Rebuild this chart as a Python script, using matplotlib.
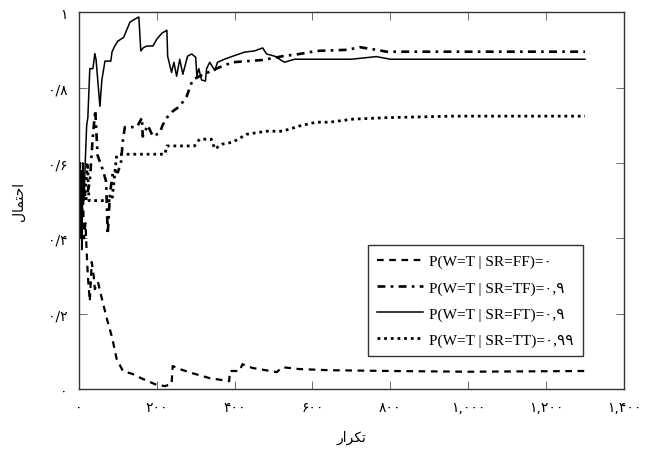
import numpy as np
import matplotlib
matplotlib.use('Agg')
import matplotlib.pyplot as plt

# series: (iteration, probability)
ff_x = [0, 3, 6, 10, 13, 17, 20, 23, 28, 33, 38, 41, 49, 59, 72, 85, 97, 113, 138, 164, 200, 221, 238,
        241, 259, 292, 336, 386, 388, 413, 420, 446, 508, 523, 567, 644, 800, 1000, 1300]
ff_y = [0.5, 0.6, 0.42, 0.55, 0.4, 0.44, 0.363, 0.30, 0.233, 0.337, 0.30, 0.265, 0.284, 0.24, 0.186, 0.138,
        0.08, 0.048, 0.04, 0.027, 0.011, 0.008, 0.013, 0.061, 0.053, 0.042, 0.029, 0.021, 0.048, 0.048, 0.066,
        0.056, 0.045, 0.058, 0.053, 0.05, 0.048, 0.046, 0.048]

tf_x = [0, 5, 10, 18, 28, 35, 42, 48, 55, 62, 70, 74, 80, 88, 100, 108, 113, 118, 149, 162, 164, 177, 190,
        208, 215, 226, 241, 259, 277, 285, 292, 310, 362, 395, 472, 523, 567, 610, 690, 721, 764, 790, 1300]
tf_y = [0.5, 0.45, 0.55, 0.5, 0.55, 0.66, 0.74, 0.62, 0.6, 0.58, 0.55, 0.41, 0.52, 0.58, 0.575, 0.6, 0.66,
        0.695, 0.695, 0.72, 0.67, 0.70, 0.67, 0.68, 0.70, 0.72, 0.737, 0.75, 0.777, 0.80, 0.82, 0.83, 0.854,
        0.867, 0.873, 0.883, 0.889, 0.897, 0.90, 0.907, 0.90, 0.895, 0.895]

ft_x = [0, 2, 4, 6, 8, 10, 13, 17, 20, 23, 28, 36, 41, 44, 54, 59, 67, 82, 85, 92, 100, 115, 131, 141, 154,
        159, 165, 174, 190, 200, 213, 226, 228, 238, 244, 251, 259, 267, 279, 290, 300, 303, 308, 315, 325,
        328, 336, 349, 356, 374, 395, 426, 451, 472, 482, 503, 528, 554, 590, 700, 764, 800, 1300]
ft_y = [0.5, 0.6, 0.4, 0.58, 0.37, 0.6, 0.5, 0.62, 0.7, 0.72, 0.85, 0.85, 0.89, 0.875, 0.75, 0.82, 0.87,
        0.87, 0.894, 0.91, 0.923, 0.933, 0.973, 0.98, 0.987, 0.897, 0.905, 0.91, 0.91, 0.928, 0.944, 0.952,
        0.883, 0.84, 0.867, 0.83, 0.875, 0.835, 0.883, 0.889, 0.88, 0.83, 0.85, 0.82, 0.817, 0.85, 0.867,
        0.845, 0.867, 0.875, 0.883, 0.894, 0.897, 0.905, 0.889, 0.883, 0.867, 0.875, 0.875, 0.875, 0.882,
        0.875, 0.875]

tt_x = [0, 3, 6, 10, 15, 22, 26, 40, 60, 85, 90, 97, 113, 221, 226, 297, 310, 340, 349, 369, 395, 431, 482,
        523, 567, 610, 644, 703, 790, 959, 1300]
tt_y = [0.5, 0.56, 0.44, 0.52, 0.5, 0.6, 0.5, 0.5, 0.5, 0.5, 0.55, 0.62, 0.623, 0.623, 0.645, 0.645, 0.663,
        0.663, 0.637, 0.65, 0.655, 0.676, 0.684, 0.684, 0.698, 0.708, 0.708, 0.716, 0.72, 0.724, 0.724]

labels = ['P(W=T | SR=FF)=۰', 'P(W=T | SR=TF)=۰,۹', 'P(W=T | SR=FT)=۰,۹', 'P(W=T | SR=TT)=۰,۹۹']
x_ticks = [0, 200, 400, 600, 800, 1000, 1200, 1400]
y_ticks = [0, 0.2, 0.4, 0.6, 0.8, 1.0]

# matplotlib does no arabic shaping, so the labels are written in
# presentation forms, in visual (left to right) order
ylab = '\ufedd\ufe8e\ufee4\ufe98\ufea3\ufe8d'   # احتمال
xlab = '\ufead\ufe8d\ufeae\ufb91\ufe97'         # تکرار

FA = str.maketrans('0123456789', '۰۱۲۳۴۵۶۷۸۹')

def fa_x(v):
    return '{:,}'.format(int(v)).translate(FA)

def fa_y(v):
    if v == 0:
        return '۰'
    if v == 1:
        return '۱'
    return '{:.1f}'.format(v).replace('.', '/').translate(FA)

fig = plt.figure(figsize=(6.52, 4.52), dpi=100)
ax = fig.add_axes([0.121, 0.137, 0.836, 0.834])

ax.plot(ff_x, ff_y, color='black', lw=1.6, dashes=(3, 2.5), label=labels[0])
ax.plot(tf_x, tf_y, color='black', lw=1.9, dashes=(3, 2, 1, 2), label=labels[1])
ax.plot(ft_x, ft_y, color='black', lw=1.1, label=labels[2])
ax.plot(tt_x, tt_y, color='black', lw=2.0, dashes=(1, 1.4), label=labels[3])

ax.set_xlim(0, 1400)
ax.set_ylim(0, 1)
ax.set_xticks(x_ticks)
ax.set_xticklabels([fa_x(v) for v in x_ticks], fontsize=10, family=['DejaVu Sans'])
ax.set_yticks(y_ticks)
ax.set_yticklabels([fa_y(v) for v in y_ticks], fontsize=10, family=['DejaVu Sans'])
ax.tick_params(direction='in', length=6, width=0.6, top=True, right=True, pad=8, color='#555555')
for s in ax.spines.values():
    s.set_linewidth(1.0)
    s.set_color('#333333')

ax.set_ylabel(ylab, fontsize=10, family=['DejaVu Sans'], labelpad=16)
ax.set_xlabel(xlab, fontsize=10, family=['DejaVu Sans'], labelpad=11)

leg = ax.legend(loc='lower right', bbox_to_anchor=(0.925, 0.088), borderaxespad=0, fancybox=False,
                framealpha=1, edgecolor='#333333', handlelength=3, handletextpad=0.4, borderpad=0.6,
                labelspacing=0.8, prop={'family': ['Liberation Serif', 'DejaVu Sans'], 'size': 11})
leg.get_frame().set_linewidth(1.0)

fig.savefig('out.png', dpi=100)
